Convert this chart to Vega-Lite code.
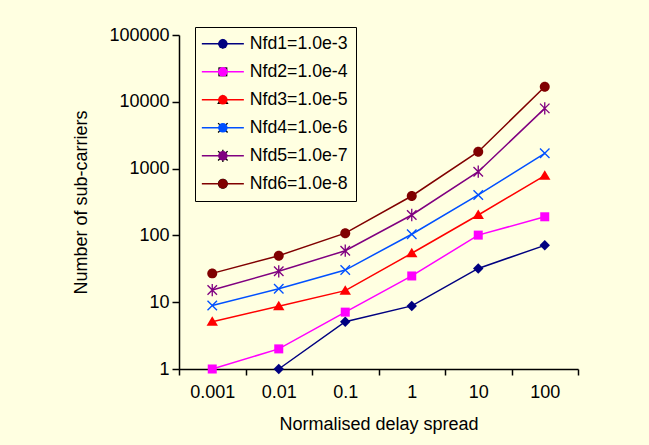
{
  "$schema": "https://vega.github.io/schema/vega-lite/v6.json",
  "autosize": {"type": "none"},
  "width": 399,
  "height": 334,
  "padding": {"left": 179, "top": 35, "right": 71, "bottom": 76},
  "background": "#FFFFE1",
  "config": {
    "view": {"stroke": null},
    "font": "Liberation Sans",
    "axis": {
      "labelFont": "Liberation Sans", "titleFont": "Liberation Sans",
      "labelFontSize": 18, "titleFontSize": 18, "titleFontWeight": "normal",
      "labelColor": "#000000", "titleColor": "#000000",
      "domainColor": "#000000", "domainWidth": 1.5,
      "tickColor": "#000000", "tickWidth": 1.5, "grid": false
    },
    "legend": {
      "labelFont": "Liberation Sans", "labelFontSize": 17.7, "labelColor": "#000000",
      "title": null, "orient": "none", "legendX": 16, "legendY": -8,
      "padding": 8, "symbolSize": 90, "symbolOffset": 11, "labelOffset": 18, "rowPadding": 9
    }
  },
  "data": {
    "values": [
      {"s": "Nfd1=1.0e-3", "x": "0.01", "y": 1},
      {"s": "Nfd1=1.0e-3", "x": "0.1", "y": 5.1},
      {"s": "Nfd1=1.0e-3", "x": "1", "y": 8.8},
      {"s": "Nfd1=1.0e-3", "x": "10", "y": 32},
      {"s": "Nfd1=1.0e-3", "x": "100", "y": 71},
      {"s": "Nfd2=1.0e-4", "x": "0.001", "y": 1},
      {"s": "Nfd2=1.0e-4", "x": "0.01", "y": 2},
      {"s": "Nfd2=1.0e-4", "x": "0.1", "y": 7.1},
      {"s": "Nfd2=1.0e-4", "x": "1", "y": 24.7},
      {"s": "Nfd2=1.0e-4", "x": "10", "y": 101},
      {"s": "Nfd2=1.0e-4", "x": "100", "y": 190},
      {"s": "Nfd3=1.0e-5", "x": "0.001", "y": 5.1},
      {"s": "Nfd3=1.0e-5", "x": "0.01", "y": 8.7},
      {"s": "Nfd3=1.0e-5", "x": "0.1", "y": 14.9},
      {"s": "Nfd3=1.0e-5", "x": "1", "y": 54},
      {"s": "Nfd3=1.0e-5", "x": "10", "y": 202},
      {"s": "Nfd3=1.0e-5", "x": "100", "y": 783},
      {"s": "Nfd4=1.0e-6", "x": "0.001", "y": 8.9},
      {"s": "Nfd4=1.0e-6", "x": "0.01", "y": 15.9},
      {"s": "Nfd4=1.0e-6", "x": "0.1", "y": 30.3},
      {"s": "Nfd4=1.0e-6", "x": "1", "y": 104},
      {"s": "Nfd4=1.0e-6", "x": "10", "y": 403},
      {"s": "Nfd4=1.0e-6", "x": "100", "y": 1694},
      {"s": "Nfd5=1.0e-7", "x": "0.001", "y": 15.2},
      {"s": "Nfd5=1.0e-7", "x": "0.01", "y": 29},
      {"s": "Nfd5=1.0e-7", "x": "0.1", "y": 59},
      {"s": "Nfd5=1.0e-7", "x": "1", "y": 202},
      {"s": "Nfd5=1.0e-7", "x": "10", "y": 899},
      {"s": "Nfd5=1.0e-7", "x": "100", "y": 7970},
      {"s": "Nfd6=1.0e-8", "x": "0.001", "y": 27},
      {"s": "Nfd6=1.0e-8", "x": "0.01", "y": 49.7},
      {"s": "Nfd6=1.0e-8", "x": "0.1", "y": 108},
      {"s": "Nfd6=1.0e-8", "x": "1", "y": 389},
      {"s": "Nfd6=1.0e-8", "x": "10", "y": 1790},
      {"s": "Nfd6=1.0e-8", "x": "100", "y": 16800}
    ]
  },
  "encoding": {
    "x": {
      "field": "x", "type": "ordinal",
      "sort": ["0.001", "0.01", "0.1", "1", "10", "100"],
      "scale": {"type": "band", "paddingInner": 0, "paddingOuter": 0},
      "axis": {"title": "Normalised delay spread", "labelAngle": 0, "tickBand": "extent", "tickSize": 6, "labelPadding": 8, "titlePadding": 14}
    },
    "y": {
      "field": "y", "type": "quantitative",
      "scale": {"type": "log", "domain": [1, 100000], "nice": false},
      "axis": {"title": "Number of sub-carriers", "values": [1, 10, 100, 1000, 10000, 100000], "format": "d", "tickSize": 7, "labelPadding": 3, "titlePadding": 18}
    }
  },
  "resolve": {"scale": {"color": "independent"}, "legend": {"color": "independent"}},
  "layer": [
    {
      "mark": {"type": "line", "strokeWidth": 1.5},
      "encoding": {
        "color": {
          "field": "s", "type": "nominal",
          "scale": {
            "domain": ["Nfd1=1.0e-3", "Nfd2=1.0e-4", "Nfd3=1.0e-5", "Nfd4=1.0e-6", "Nfd5=1.0e-7", "Nfd6=1.0e-8"],
            "range": ["#000080", "#FF00FF", "#FF0000", "#0050FF", "#800080", "#800000"]
          },
          "legend": {
            "strokeColor": "#000000",
            "symbolType": "M-4.43,0H4.43",
            "symbolStrokeWidth": 1.5
          }
        }
      }
    },
    {
      "mark": {"type": "point", "filled": true, "size": 90, "opacity": 1},
      "encoding": {
        "color": {
          "field": "s", "type": "nominal",
          "scale": {
            "domain": ["Nfd1=1.0e-3", "Nfd2=1.0e-4", "Nfd3=1.0e-5", "Nfd4=1.0e-6", "Nfd5=1.0e-7", "Nfd6=1.0e-8"],
            "range": ["#000080", "#FF00FF", "#FF0000", "#0050FF", "#800080", "#800000"]
          },
          "legend": {"labelOpacity": 0, "symbolStrokeWidth": 0}
        },
        "shape": {
          "field": "s", "type": "nominal",
          "scale": {
            "domain": ["Nfd1=1.0e-3", "Nfd2=1.0e-4", "Nfd3=1.0e-5", "Nfd4=1.0e-6", "Nfd5=1.0e-7", "Nfd6=1.0e-8"],
            "range": [
              "M0,-1.1L1.1,0L0,1.1L-1.1,0Z",
              "M-0.95,-0.95H0.95V0.95H-0.95Z",
              "M0,-1.15L1.2,0.85H-1.2Z",
              "M-0.9,-1.1L1.1,0.9L0.9,1.1L-1.1,-0.9ZM-1.1,0.9L0.9,-1.1L1.1,-0.9L-0.9,1.1Z",
              "M-0.9,-1.1L1.1,0.9L0.9,1.1L-1.1,-0.9ZM-1.1,0.9L0.9,-1.1L1.1,-0.9L-0.9,1.1ZM-0.14,-1.3H0.14V1.3H-0.14Z",
              "M1.05,0A1.05,1.05,0,1,1,-1.05,0A1.05,1.05,0,1,1,1.05,0Z"
            ]
          },
          "legend": {"labelOpacity": 0, "symbolStrokeWidth": 0}
        }
      }
    }
  ]
}
